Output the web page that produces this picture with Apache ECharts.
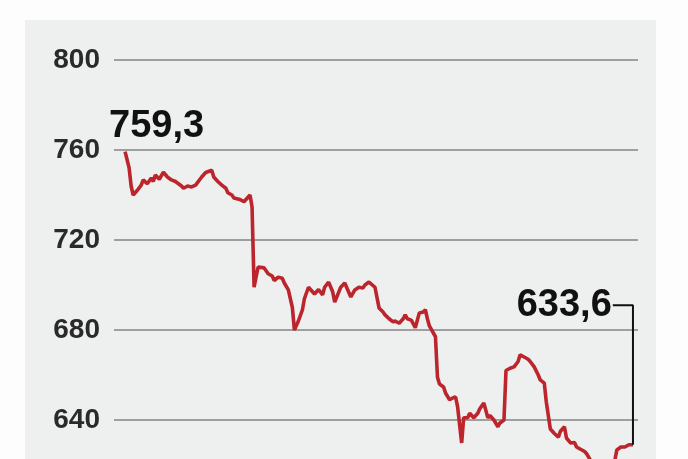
<!DOCTYPE html>
<html>
<head>
<meta charset="utf-8">
<script src="https://cdn.jsdelivr.net/npm/echarts@6/dist/echarts.min.js"></script>
<style>
  html, body { margin: 0; padding: 0; background: #fdfdfd; }
  #PriceChart { width: 688px; height: 459px; }
</style>
</head>
<body>
<div id="PriceChart"></div>
<script>
// trading day index and closing value
var days = [0, 2, 3, 4, 6, 8, 9, 11, 13, 14, 15, 17, 19, 21, 23, 25, 26, 28, 29, 31,
    33, 35, 38, 40, 43, 44, 46, 48, 50, 51, 53, 54, 57, 59, 62, 63, 64, 66, 69, 71,
    73, 74, 76, 78, 79, 81, 83, 84, 86, 88, 89, 91, 93, 94, 96, 98, 99, 101, 103, 104,
    107, 109, 112, 114, 116, 118, 119, 121, 124, 126, 128, 129, 131, 133, 134, 136, 138, 139, 140, 142,
    144, 146, 148, 149, 150, 151, 154, 155, 156, 158, 159, 161, 163, 164, 165, 167, 168, 170, 171, 173,
    175, 176, 178, 180, 181, 183, 185, 186, 188, 189, 191, 193, 195, 196, 198, 200, 201, 203, 205, 206,
    208, 209, 211, 213, 215, 216, 218, 219, 221, 223, 224, 226, 228, 229, 231, 233, 235, 238, 240, 243,
    244, 246, 248, 250, 252];
var prices = [759.3, 752, 744, 740, 742, 744.4, 746.7, 745, 747.6, 746, 748.9, 747, 750.2, 748, 746.7, 746, 745.3, 744, 743, 744,
    743.6, 744.4, 748, 750, 751, 748, 746, 744.4, 743, 741, 740, 738.7, 738, 737, 740, 734.7, 699, 708, 707.6, 705,
    704, 702, 703.5, 703, 700.9, 697.8, 690, 680, 684, 689, 694, 699, 697, 696, 698, 695.6, 699, 701.3, 697, 692.4,
    699, 700.9, 694.7, 697.8, 699, 698.7, 700, 701.3, 699, 689.8, 688, 686.7, 685, 683.6, 684, 683, 685, 686.7, 685, 684.4,
    681, 687.6, 688, 689, 685, 681.8, 677, 659, 656, 654.7, 652, 649, 650, 650.2, 645.8, 629.8, 641, 641, 643, 641,
    643, 645, 647.6, 641, 642, 640, 637, 638.7, 640, 662, 663, 663.6, 666, 669, 668, 667, 666, 663.6, 660, 657.8,
    656.4, 648, 636, 634, 632.4, 635, 637, 632, 629.8, 630, 628, 627, 626, 625, 622, 620, 618, 617, 619, 622,
    626.7, 628, 628, 629, 629];
var firstLabel = '759,3';
var lastLabel = '633,6';
var leaderLevel = 691;

var PriceChart = echarts.init(document.getElementById('PriceChart'));

var lineData = [];
for (var i = 0; i < days.length; i++) {
    lineData.push([days[i], prices[i]]);
}
var lastDay = days[days.length - 1];
var lastPrice = prices[prices.length - 1];

var bigLabel = {
    show: true,
    position: 'inside',
    verticalAlign: 'middle',
    color: '#111',
    fontSize: 38,
    fontWeight: 'bold',
    fontFamily: 'Liberation Sans, Arial, sans-serif'
};

var optionPrice = {
    animation: false,
    backgroundColor: '#fdfdfd',
    graphic: [
        {
            type: 'rect',
            z: -10,
            shape: { x: 25, y: 20, width: 631, height: 460 },
            style: { fill: '#eeefef' }
        }
    ],
    grid: {
        left: 114,
        top: 60,
        width: 524,
        height: 450,
        outerBoundsMode: 'none'
    },
    xAxis: {
        type: 'value',
        min: -5.5,
        max: 254.5,
        show: false
    },
    yAxis: {
        type: 'value',
        min: 600,
        max: 800,
        interval: 40,
        axisLine: { show: false },
        axisTick: { show: false },
        axisLabel: {
            margin: 14,
            color: '#2a2a2a',
            fontSize: 28,
            fontWeight: 'bold',
            fontFamily: 'Liberation Sans, Arial, sans-serif'
        },
        splitLine: {
            lineStyle: { color: '#858585', width: 1.6 }
        }
    },
    series: [
        {
            name: 'Price',
            type: 'line',
            symbol: 'none',
            lineStyle: { color: '#bb252b', width: 3.6 },
            data: lineData,
            markPoint: {
                symbol: 'circle',
                symbolSize: 0,
                data: [{ coord: [days[0], prices[0]] }],
                label: Object.assign({}, bigLabel, {
                    formatter: firstLabel,
                    align: 'left',
                    offset: [-16, -25]
                })
            }
        },
        {
            name: 'Leader',
            type: 'line',
            symbol: 'none',
            lineStyle: { color: '#111', width: 2 },
            data: [
                [lastDay - 10, leaderLevel],
                [lastDay, leaderLevel],
                [lastDay, lastPrice]
            ],
            markPoint: {
                symbol: 'circle',
                symbolSize: 0,
                data: [{ coord: [lastDay - 10, leaderLevel] }],
                label: Object.assign({}, bigLabel, {
                    formatter: lastLabel,
                    align: 'right',
                    offset: [-1, 0]
                })
            }
        }
    ]
};
PriceChart.setOption(optionPrice);
</script>
</body>
</html>
